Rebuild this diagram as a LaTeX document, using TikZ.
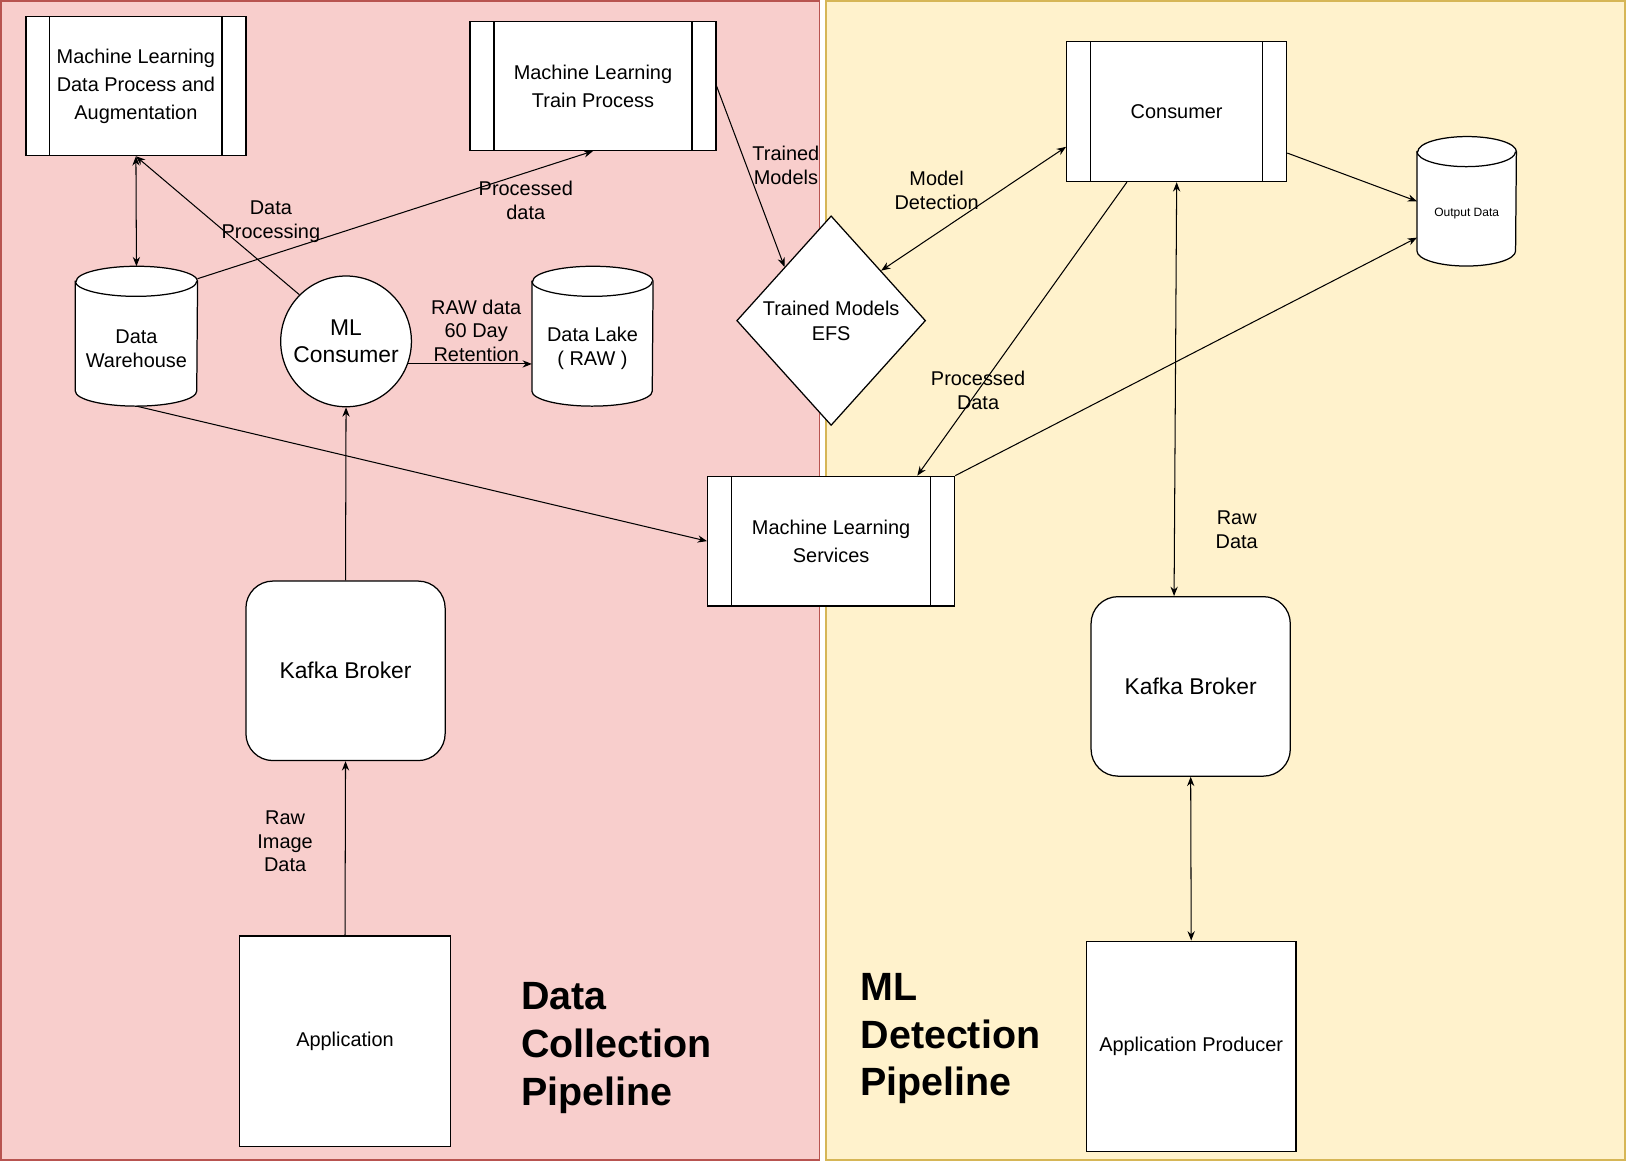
\documentclass[tikz,border=0pt]{standalone}
\usepackage{fontspec}
\setmainfont{Liberation Sans}
\usepackage{tikz}
\usetikzlibrary{arrows.meta, positioning, shapes.geometric, calc}

\definecolor{redfill}{HTML}{F8CECC}
\definecolor{redline}{HTML}{B85450}
\definecolor{yellowfill}{HTML}{FFF2CC}
\definecolor{yellowline}{HTML}{D6B656}

% drum outline round a named node: #1 node, #2 x radius, #3 y radius
\newcommand{\dbdrum}[3]{%
  \filldraw[fill=white, line width=0.6pt] ([yshift=-#3]#1.north west) -- ([yshift=#3]#1.south west)
    arc[start angle=180, end angle=360, x radius=#2, y radius=#3]
    -- ([yshift=-#3]#1.north east)
    arc[start angle=0, end angle=180, x radius=#2, y radius=#3] -- cycle;
  \draw[line width=0.6pt] ([yshift=-#3]#1.north west)
    arc[start angle=180, end angle=360, x radius=#2, y radius=#3];}

\begin{document}
\begin{tikzpicture}[x=0.5pt, y=-0.5pt,
    boxbase/.style={draw, fill=white, line width=0.6pt, align=center, inner sep=0pt, font=\fontsize{9.6}{13.5}\selectfont},
    procbox/.style={boxbase, path picture={
        \draw[line width=0.6pt] ([xshift=11.5pt]path picture bounding box.north west) -- ([xshift=11.5pt]path picture bounding box.south west)
            ([xshift=-11.5pt]path picture bounding box.north east) -- ([xshift=-11.5pt]path picture bounding box.south east);}},
    dbbox/.style={inner sep=0pt},
    kafka/.style={boxbase, rounded corners=13pt, minimum width=96pt, minimum height=86.5pt, font=\fontsize{11}{13}\selectfont},
    appbox/.style={boxbase, minimum height=101.5pt},
    lbl/.style={align=center, inner sep=0pt, font=\fontsize{9.6}{11.5}\selectfont},
    heading/.style={align=left, anchor=west, inner sep=0pt, font=\fontsize{19}{23}\selectfont\bfseries},
    arr/.style={-{Stealth[length=4.5pt, width=3.5pt]}, line width=0.5pt},
    twoway/.style={{Stealth[length=4.5pt, width=3.5pt]}-{Stealth[length=4.5pt, width=3.5pt]}, line width=0.5pt}]

    \useasboundingbox (0,0) rectangle (1568,1119);
    % the two pipelines
    \filldraw[fill=redfill, draw=redline, line width=0.6pt] (1,1) rectangle (790,1118);
    \filldraw[fill=yellowfill, draw=yellowline, line width=0.6pt] (796,1) rectangle (1566,1118);

    % data collection
    \node[procbox, minimum width=106pt, minimum height=67pt] (A) at (131,83) {Machine Learning\\Data Process and\\Augmentation};
    \node[dbbox, minimum width=58.5pt, minimum height=67pt] (B) at (131.5,324) {};
    \dbdrum{B}{29.25pt}{7.25pt}
    \node[lbl] (Bt) at ([yshift=-6pt]B.center) {Data\\Warehouse};
    \node[procbox, minimum width=118.5pt, minimum height=62pt] (C) at (571.5,83) {Machine Learning\\Train Process};
    \node[boxbase, circle, minimum size=63pt, font=\fontsize{11}{13}\selectfont] (D) at (333.5,329) {ML\\Consumer};
    \node[dbbox, minimum width=58pt, minimum height=67pt] (E) at (571,324) {};
    \dbdrum{E}{29pt}{7.25pt}
    \node[lbl] (Et) at ([yshift=-6pt]E.center) {Data Lake\\( RAW )};
    \node[boxbase, diamond, minimum width=91pt, minimum height=101pt, font=\fontsize{9.6}{12}\selectfont] (F) at (801,309) {Trained Models\\EFS};
    \node[procbox, minimum width=119pt, minimum height=62.5pt] (G) at (801,521.5) {Machine Learning\\Services};
    \node[kafka] (H) at (333,646.5) {Kafka Broker};
    \node[appbox, minimum width=101.5pt] (I) at (332.5,1003.5) {Application};

    % ml detection
    \node[procbox, minimum width=106pt, minimum height=67.5pt] (J) at (1134,107.5) {Consumer};
    \node[dbbox, minimum width=47.5pt, minimum height=62pt] (K) at (1413.5,194) {};
    \dbdrum{K}{23.75pt}{7.25pt}
    \node[lbl, font=\fontsize{5.8}{7}\selectfont] (Kt) at ([yshift=-6pt]K.center) {Output Data};
    \node[kafka] (L) at (1147.5,661.5) {Kafka Broker};
    \node[appbox, minimum width=101pt] (M) at (1148,1008.5) {Application Producer};

    \node[heading] (N) at (502,1010) {Data\\Collection\\Pipeline};
    \node[heading] (O) at (829,1001) {ML\\Detection\\Pipeline};

    \draw[twoway] (A.south) -- (B.north);
    \draw[arr] (D.135) -- node[lbl, pos=0.53, xshift=28pt] {Data\\Processing} (A.south);
    \draw[arr] ($(B.north -| B.east)+(0,12)$) -- node[lbl, pos=0.83, yshift=-13.5pt] {Processed\\data} (C.south);
    \draw[arr] (C.east) -- node[lbl, pos=0.44, xshift=19pt] {Trained\\Models} (F.131);
    \draw[arr] (D.-20) -- node[lbl, midway, yshift=16pt, xshift=3pt] {RAW data\\60 Day\\Retention} (D.-20 -| E.west);
    \draw[arr] (B.south) -- (G.west);
    \draw[arr] (H.north) -- (D.south);
    \draw[arr] (I.north) -- node[lbl, pos=0.54, xshift=-29pt] {Raw\\Image\\Data} (H.south);

    \draw[twoway] (F.45) -- node[lbl, pos=0.3, yshift=20.75pt] {Model\\Detection} ([yshift=-17pt]J.west);
    \draw[arr] ([xshift=-24pt]J.south) -- node[lbl, pos=0.71] {Processed\\Data} ([xshift=41.5pt]G.north);
    \draw[arr] (G.north east) -- ([yshift=-17.5pt]K.west);
    \draw[arr] ([yshift=-20pt]J.east) -- (K.west);
    \draw[twoway] (J.south) -- node[lbl, pos=0.84, xshift=30pt] {Raw\\Data} ([xshift=-8pt]L.north);
    \draw[twoway] (L.south) -- (M.north);
\end{tikzpicture}
\end{document}
